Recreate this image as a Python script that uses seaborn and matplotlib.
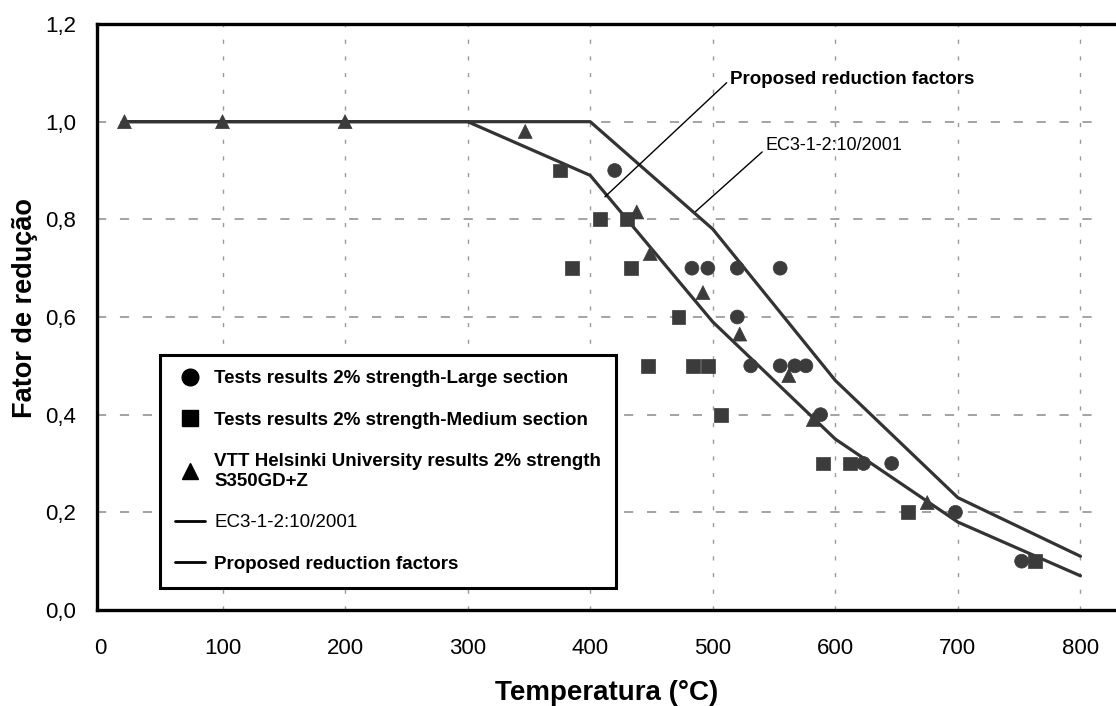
import numpy as np
import pandas as pd
import matplotlib
matplotlib.use("Agg")
import matplotlib.pyplot as plt
import seaborn as sns
from matplotlib.lines import Line2D
from matplotlib.ticker import FuncFormatter, MultipleLocator

# ---- data ----
large_x = [420, 483, 496, 520, 555, 520, 531, 555, 567, 576, 588, 623, 646, 698, 752]
large_y = [0.90, 0.70, 0.70, 0.70, 0.70, 0.60, 0.50, 0.50, 0.50, 0.50, 0.40, 0.30, 0.30, 0.20, 0.10]
medium_x = [375, 408, 430, 385, 433, 472, 447, 484, 496, 507, 590, 612, 659, 763]
medium_y = [0.90, 0.80, 0.80, 0.70, 0.70, 0.60, 0.50, 0.50, 0.50, 0.40, 0.30, 0.30, 0.20, 0.10]
vtt_x = [20, 100, 200, 347, 438, 449, 492, 522, 562, 582, 675]
vtt_y = [1.0, 1.0, 1.0, 0.98, 0.815, 0.73, 0.65, 0.565, 0.48, 0.39, 0.22]
ec3_t = [20, 100, 200, 300, 400, 500, 600, 700, 800]
ec3_k = [1.0, 1.0, 1.0, 1.0, 1.0, 0.78, 0.47, 0.23, 0.11]
prop_t = [20, 100, 200, 300, 400, 500, 600, 700, 800]
prop_k = [1.0, 1.0, 1.0, 1.0, 0.89, 0.59, 0.35, 0.18, 0.07]

lbl_large = "Tests results 2% strength-Large section"
lbl_medium = "Tests results 2% strength-Medium section"
lbl_vtt = "VTT Helsinki University results 2% strength\nS350GD+Z"
lbl_ec3 = "EC3-1-2:10/2001"
lbl_prop = "Proposed reduction factors"

sns.set_theme(style="white")
plt.rcParams["font.family"] = ["Liberation Sans", "DejaVu Sans"]
plt.rcParams["text.color"] = "black"
plt.rcParams["axes.labelcolor"] = "black"
plt.rcParams["xtick.color"] = "black"
plt.rcParams["ytick.color"] = "black"

pts = pd.concat([
    pd.DataFrame({"T": large_x, "k": large_y, "serie": "large"}),
    pd.DataFrame({"T": medium_x, "k": medium_y, "serie": "medium"}),
    pd.DataFrame({"T": vtt_x, "k": vtt_y, "serie": "vtt"}),
])
lines = pd.concat([
    pd.DataFrame({"T": ec3_t, "k": ec3_k, "curve": "ec3"}),
    pd.DataFrame({"T": prop_t, "k": prop_k, "curve": "prop"}),
])

fig = plt.figure(figsize=(11.16, 7.06), dpi=100)
ax = fig.add_axes([97 / 1116, 96 / 706, 1019 / 1116, 586 / 706])

mark_col = "#3b3b3b"
line_col = "#333333"

# grid
for v in range(100, 900, 100):
    ax.axvline(v, color="#9a9a9a", lw=1.0, ls=(0, (3, 9)), zorder=0)
for h in [0.2, 0.4, 0.6, 0.8, 1.0]:
    ax.axhline(h, color="#8a8a8a", lw=1.1, ls=(0, (6, 9)), zorder=0, xmax=0.985)

sns.lineplot(data=lines, x="T", y="k", units="curve", estimator=None,
             color=line_col, lw=2.3, ax=ax, sort=False, legend=False, zorder=3)
sns.scatterplot(data=pts, x="T", y="k", style="serie",
                markers={"large": "o", "medium": "s", "vtt": "^"},
                color=mark_col, s=100, edgecolor=mark_col, linewidth=0.5,
                ax=ax, legend=False, zorder=4)

ax.set_xlim(-2.4, 829)
ax.set_ylim(0, 1.2)
ax.xaxis.set_major_locator(MultipleLocator(100))
ax.yaxis.set_major_locator(MultipleLocator(0.2))
ax.yaxis.set_major_formatter(FuncFormatter(lambda v, p: f"{v:.1f}".replace(".", ",")))
ax.tick_params(axis="x", direction="inout", length=7, width=2, pad=17, labelsize=16, color="black", labelcolor="black")
ax.tick_params(axis="y", direction="out", length=8, width=2, pad=7, labelsize=16, color="black", labelcolor="black")
for s in ["left", "top", "bottom"]:
    ax.spines[s].set_linewidth(2.4)
    ax.spines[s].set_color("black")
ax.spines["right"].set_visible(False)

ax.set_xlabel("Temperatura (°C)", fontsize=20, fontweight="bold", labelpad=15, color="black")
ax.set_ylabel("Fator de redução", fontsize=19.5, fontweight="bold", labelpad=4, color="black")
ax.yaxis.set_label_coords(-0.058, 0.515)

# annotations
ax.annotate(lbl_prop, xy=(412, 0.846), xytext=(514, 1.086),
            fontsize=13.5, fontweight="bold", ha="left", va="center", color="black",
            arrowprops=dict(arrowstyle="-", color="black", lw=1.0,
                            shrinkA=0, shrinkB=0, relpos=(0, 0.5)))
ax.annotate(lbl_ec3, xy=(486, 0.816), xytext=(543, 0.951),
            fontsize=13, ha="left", va="center", color="black",
            arrowprops=dict(arrowstyle="-", color="black", lw=1.0,
                            shrinkA=0, shrinkB=0, relpos=(0, 0.3)))

# legend
handles = [
    Line2D([], [], marker="o", ls="none", color="black", markersize=12),
    Line2D([], [], marker="s", ls="none", color="black", markersize=11),
    Line2D([], [], marker="^", ls="none", color="black", markersize=12),
    Line2D([], [], color="black", lw=2),
    Line2D([], [], color="black", lw=2),
]
leg = ax.legend(handles, [lbl_large, lbl_medium, lbl_vtt, lbl_ec3, lbl_prop],
                loc="upper left", bbox_to_anchor=(0.0618, 0.435),
                frameon=True, fancybox=False, framealpha=1, edgecolor="black",
                fontsize=13.5, labelspacing=1.3, handlelength=1.6,
                handletextpad=0.5, borderpad=0.8, borderaxespad=0)
leg.get_frame().set_linewidth(2.2)
for t, w in zip(leg.get_texts(), ["bold", "bold", "bold", "normal", "bold"]):
    t.set_fontweight(w)
    t.set_color("black")
leg.set_zorder(6)

fig.savefig("out.png", dpi=100)
